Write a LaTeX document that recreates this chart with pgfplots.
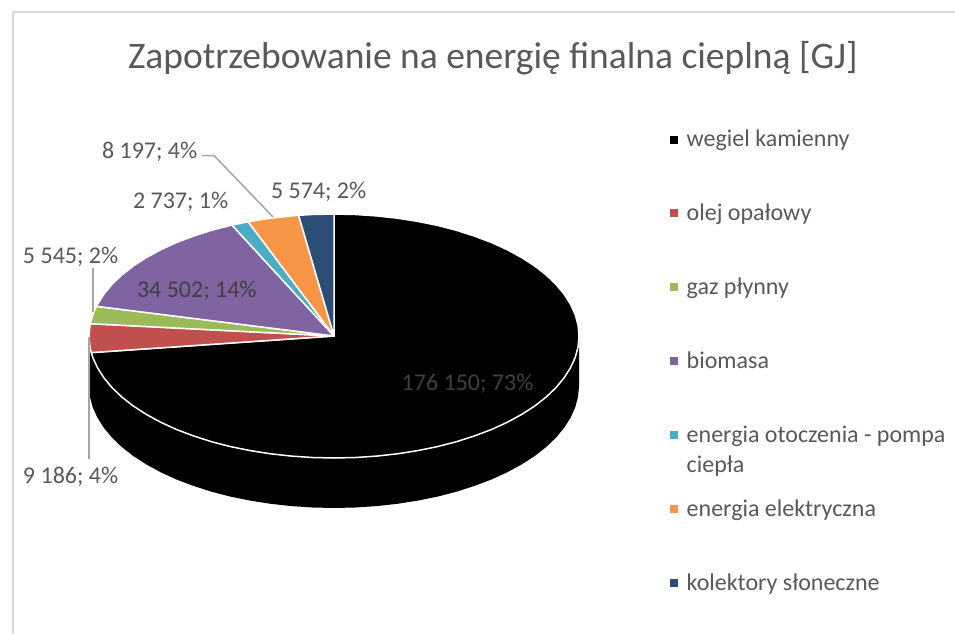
\documentclass[border=0pt]{standalone}
\usepackage{fontspec}
\setmainfont{Carlito}
\usepackage{pgfplots}
\pgfplotsset{compat=1.18}
\definecolor{txt}{HTML}{595959}
\definecolor{frame}{HTML}{D9D9D9}
\definecolor{leader}{HTML}{A6A6A6}
\definecolor{cred}{HTML}{C0504D}
\definecolor{cgreen}{HTML}{9BBB59}
\definecolor{cpurple}{HTML}{8064A2}
\definecolor{caqua}{HTML}{4BACC6}
\definecolor{corange}{HTML}{F79646}
\definecolor{cnavy}{HTML}{2C4D75}
\tikzset{lbl/.style={anchor=base west, inner sep=0pt, outer sep=0pt, text=txt, font=\fontsize{24}{24}\selectfont}}
\begin{document}
\begin{tikzpicture}
\begin{axis}[
  hide axis,
  scale only axis,
  width=955pt, height=634pt,
  xmin=0, xmax=955, ymin=0, ymax=634,
  y dir=reverse,
  clip=true,
  slice/.style={draw=white, line width=1.5pt, line join=round},
]
% page background, chart frame (open on the right and at the bottom)
\addplot[fill=white, draw=none] coordinates {(0,0) (955,0) (955,634) (0,634)} --cycle;
\addplot[draw=frame, line width=2pt] coordinates {(955,12.5) (12.5,12.5) (12.5,634)};

% side wall of the pie
\addplot[fill=black, draw=none] coordinates {
  (579,336) (579,386) (578.1,396.6) (575.3,407.2) (570.6,417.6) (564.2,427.7) (556,437.6)
  (546.2,447) (534.7,456) (521.7,464.4) (507.2,472.3) (491.5,479.5) (474.5,485.9)
  (456.5,491.7) (437.5,496.6) (417.8,500.6) (397.4,503.8) (376.5,506.1) (355.4,507.5)
  (334,508) (312.6,507.5) (291.5,506.1) (270.6,503.8) (250.2,500.6) (230.5,496.6)
  (211.5,491.7) (193.5,485.9) (176.5,479.5) (160.8,472.3) (146.3,464.4) (133.3,456)
  (121.8,447) (112,437.6) (103.8,427.7) (97.4,417.6) (92.7,407.2) (89.9,396.6) (89,386) (89,336)
} --cycle;

% wegiel kamienny
\addplot[slice, fill=black] coordinates {
  (334,336) (334,214) (355.4,214.5) (376.5,215.9) (397.4,218.2) (417.8,221.4) (437.5,225.4)
  (456.5,230.3) (474.5,236.1) (491.5,242.5) (507.2,249.7) (521.7,257.6) (534.7,266)
  (546.2,275) (556,284.4) (564.2,294.3) (570.6,304.4) (575.3,314.8) (578.1,325.4) (579,336)
  (578.1,346.6) (575.3,357.2) (570.6,367.6) (564.2,377.7) (556,387.6) (546.2,397) (534.7,406)
  (521.7,414.4) (507.2,422.3) (491.5,429.5) (474.5,435.9) (456.5,441.7) (437.5,446.6)
  (417.8,450.6) (397.4,453.8) (376.5,456.1) (355.4,457.5) (334,458) (312.6,457.5) (291.5,456.1)
  (270.6,453.8) (250.2,450.6) (230.5,446.6) (211.5,441.7) (193.5,435.9) (176.5,429.5)
  (160.8,422.3) (146.3,414.4) (133.3,406) (121.8,397) (112,387.6) (103.8,377.7) (97.4,367.6)
  (92.7,357.2) (91.3,352.6)
} --cycle;
% olej opalowy
\addplot[slice, fill=cred] coordinates {
  (334,336) (91.3,352.6) (89.9,346.6) (89,336) (89.5,330) (90.3,323.7)
} --cycle;
% gaz plynny
\addplot[slice, fill=cgreen] coordinates {
  (334,336) (90.3,323.7) (92.7,314.8) (96.4,306.3)
} --cycle;
% biomasa
\addplot[slice, fill=cpurple] coordinates {
  (334,336) (96.4,306.3) (103.8,294.3) (112,284.4) (121.8,275) (133.3,266) (146.3,257.6)
  (160.8,249.7) (176.5,242.5) (193.5,236.1) (211.5,230.3) (230.5,225.4) (232,225.1)
} --cycle;
% energia otoczenia
\addplot[slice, fill=caqua] coordinates {
  (334,336) (232,225.1) (248.2,221.7)
} --cycle;
% energia elektryczna
\addplot[slice, fill=corange] coordinates {
  (334,336) (248.2,221.7) (250.2,221.4) (270.6,218.2) (291.5,215.9) (298.6,215.3)
} --cycle;
% kolektory sloneczne
\addplot[slice, fill=cnavy] coordinates {
  (334,336) (298.6,215.3) (312.6,214.5) (334,214)
} --cycle;

% leader lines
\addplot[draw=leader, line width=1.5pt] coordinates {(202,155.5) (214,155.5) (273,217)};
\addplot[draw=leader, line width=1.5pt] coordinates {(93,268) (93,312)};
\addplot[draw=leader, line width=1.5pt] coordinates {(89,337) (89,459)};

% legend keys
\addplot[only marks, mark=square*, mark size=3.6pt, mark options={draw=black, fill=black}] coordinates {(674,139.3)};
\addplot[only marks, mark=square*, mark size=3.6pt, mark options={draw=cred, fill=cred}] coordinates {(674,213)};
\addplot[only marks, mark=square*, mark size=3.6pt, mark options={draw=cgreen, fill=cgreen}] coordinates {(674,287)};
\addplot[only marks, mark=square*, mark size=3.6pt, mark options={draw=cpurple, fill=cpurple}] coordinates {(674,361)};
\addplot[only marks, mark=square*, mark size=3.6pt, mark options={draw=caqua, fill=caqua}] coordinates {(674,435)};
\addplot[only marks, mark=square*, mark size=3.6pt, mark options={draw=corange, fill=corange}] coordinates {(674,509)};
\addplot[only marks, mark=square*, mark size=3.6pt, mark options={draw=cnavy, fill=cnavy}] coordinates {(674,583)};

% title
\node[lbl, font=\fontsize{37.5}{37.5}\selectfont] at (axis cs:128,68.5) {Zapotrzebowanie na energię finalna cieplną [GJ]};

% data labels
\node[lbl] at (axis cs:102,158.5) {8 197; 4\%};
\node[lbl] at (axis cs:133,208) {2 737; 1\%};
\node[lbl] at (axis cs:271,198) {5 574; 2\%};
\node[lbl] at (axis cs:23,263.7) {5 545; 2\%};
\node[lbl, text=black!75] at (axis cs:137,297.7) {34 502; 14\%};
\node[lbl] at (axis cs:23,483.7) {9 186; 4\%};
\node[lbl, text=black!75] at (axis cs:401.7,390) {176 150; 73\%};
% legend text
\node[lbl] at (axis cs:686.7,146.5) {wegiel kamienny};
\node[lbl] at (axis cs:686.7,220.3) {olej opałowy};
\node[lbl] at (axis cs:686.7,294) {gaz płynny};
\node[lbl] at (axis cs:686.7,368.7) {biomasa};
\node[lbl] at (axis cs:686.7,442.7) {energia otoczenia - pompa};
\node[lbl] at (axis cs:686.7,472.7) {ciepła};
\node[lbl] at (axis cs:686.7,516.7) {energia elektryczna};
\node[lbl] at (axis cs:686.7,590.5) {kolektory słoneczne};
\end{axis}
\end{tikzpicture}
\end{document}
